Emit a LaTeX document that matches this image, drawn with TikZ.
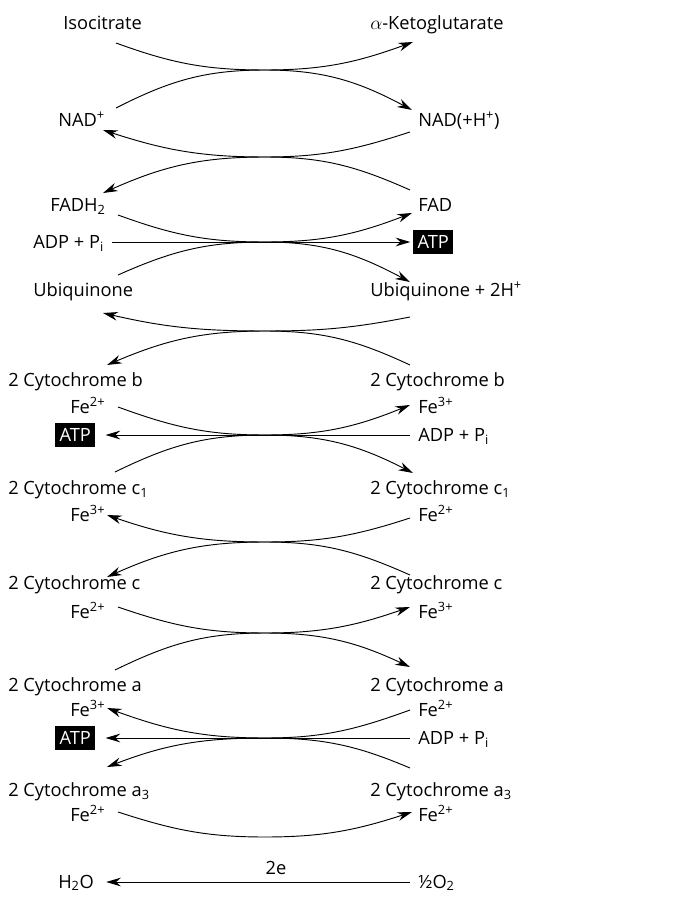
\documentclass[tikz,border=0pt]{standalone}
\usepackage{fontspec}
\setmainfont{Open Sans}
\usetikzlibrary{arrows.meta}

\begin{document}
\begin{tikzpicture}[x=0.75pt, y=-0.75pt,
    lbl/.style={anchor=base west, inner sep=0pt, font=\fontsize{13.7}{16}\selectfont},
    atpbox/.style={anchor=west, fill=black, text=white, inner sep=0pt, minimum width=30pt,
                   minimum height=18pt, font=\fontsize{13.7}{16}\selectfont},
    rxn/.style={-{Stealth[length=11pt, width=6.5pt]}, line width=0.7pt},
  ]
  \useasboundingbox (0,0) rectangle (672,897);

  \node[lbl] (iso)   at (63,29.5)   {Isocitrate};
  \node[lbl] (akg)   at (370,29.5)  {$\alpha$-Ketoglutarate};
  \node[lbl] (nadl)  at (58,126.5)  {NAD\textsuperscript{+}};
  \node[lbl] (nadr)  at (418,126.5) {NAD(+H\textsuperscript{+})};
  \node[lbl] (fadh)  at (50,211.5)  {FADH\textsubscript{2}};
  \node[lbl] (fad)   at (418,211.5) {FAD};
  \node[lbl] (adpl)  at (33,248.5)  {ADP + P\textsubscript{i}};
  \node[atpbox] (atpr) at (413,242) {ATP};
  \node[lbl] (ubl)   at (33,296.5)  {Ubiquinone};
  \node[lbl] (ubr)   at (370,296.5) {Ubiquinone + 2H\textsuperscript{+}};
  \node[lbl] (cbl)   at (8,386.5)   {2 Cytochrome b};
  \node[lbl] (cbr)   at (370,386.5) {2 Cytochrome b};
  \node[lbl] (febl)  at (70,413.5)  {Fe\textsuperscript{2+}};
  \node[lbl] (febr)  at (418,413.5) {Fe\textsuperscript{3+}};
  \node[atpbox] (atpa) at (55,435) {ATP};
  \node[lbl] (adpa)  at (418,441.5) {ADP + P\textsubscript{i}};
  \node[lbl] (cconel) at (8,494.5)  {2 Cytochrome c\textsubscript{1}};
  \node[lbl] (cconer) at (370,494.5) {2 Cytochrome c\textsubscript{1}};
  \node[lbl] (feconel) at (70,521.5) {Fe\textsuperscript{3+}};
  \node[lbl] (feconer) at (418,521.5) {Fe\textsuperscript{2+}};
  \node[lbl] (ccl)   at (8,589.5)   {2 Cytochrome c};
  \node[lbl] (ccr)   at (370,589.5) {2 Cytochrome c};
  \node[lbl] (fecl)  at (70,618.5)  {Fe\textsuperscript{2+}};
  \node[lbl] (fecr)  at (418,618.5) {Fe\textsuperscript{3+}};
  \node[lbl] (cal)   at (8,691.5)   {2 Cytochrome a};
  \node[lbl] (car)   at (370,691.5) {2 Cytochrome a};
  \node[lbl] (feal)  at (70,716.5)  {Fe\textsuperscript{3+}};
  \node[lbl] (fear)  at (418,716.5) {Fe\textsuperscript{2+}};
  \node[atpbox] (atpb) at (55,738) {ATP};
  \node[lbl] (adpb)  at (418,744.5) {ADP + P\textsubscript{i}};
  \node[lbl] (cathl) at (8,796.5)   {2 Cytochrome a\textsubscript{3}};
  \node[lbl] (cathr) at (370,796.5) {2 Cytochrome a\textsubscript{3}};
  \node[lbl] (fethl) at (70,821.5)  {Fe\textsuperscript{2+}};
  \node[lbl] (fethr) at (418,821.5) {Fe\textsuperscript{2+}};
  \node[lbl] (water) at (58,888)    {H\textsubscript{2}O};
  \node[lbl] (oxy)   at (418,888)   {½O\textsubscript{2}};
  \node[lbl, anchor=base] (elec) at (276,874) {2e};

  \coordinate (m1) at (265,70);
  \coordinate (m2) at (265,157);
  \coordinate (m3) at (265,242);
  \coordinate (m4) at (265,331);
  \coordinate (m5) at (265,435);
  \coordinate (m6) at (265,542);
  \coordinate (m7) at (265,633);
  \coordinate (m8) at (265,738);
  \coordinate (m9) at (265,837);
  \coordinate (m10) at (265,882);

  \coordinate (iso-o)  at (116,43);   \coordinate (akg-i)  at (413,42);
  \coordinate (nadl-o) at (116,108);  \coordinate (nadr-i) at (412,110);
  \coordinate (nadr-o) at (410,132);  \coordinate (nadl-i) at (103,130);
  \coordinate (fad-o)  at (410,190);  \coordinate (fadh-i) at (103,193);
  \coordinate (fadh-o) at (118,215);  \coordinate (fad-i)  at (412,213);
  \coordinate (ubl-o)  at (118,275);  \coordinate (ubr-i)  at (410,282);
  \coordinate (ubr-o)  at (410,317);  \coordinate (ubl-i)  at (103,313);
  \coordinate (cbr-o)  at (410,365);  \coordinate (cbl-i)  at (107,365);
  \coordinate (febl-o) at (118,407);  \coordinate (febr-i) at (410,405);
  \coordinate (cconel-o) at (115,472); \coordinate (cconer-i) at (413,473);
  \coordinate (feconer-o) at (410,518); \coordinate (feconel-i) at (107,515);
  \coordinate (ccr-o)  at (410,575);  \coordinate (ccl-i)  at (107,577);
  \coordinate (fecl-o) at (118,607);  \coordinate (fecr-i) at (410,607);
  \coordinate (cal-o)  at (115,670);  \coordinate (car-i)  at (410,667);
  \coordinate (fear-o) at (410,710);  \coordinate (feal-i) at (107,708);
  \coordinate (cathr-o) at (410,768); \coordinate (cathl-i) at (107,767);
  \coordinate (fethl-o) at (118,812); \coordinate (fethr-i) at (412,812);

  \draw[rxn] (iso-o) to[out=-20, in=180] (m1) to[out=0, in=200] (akg-i);
  \draw[rxn] (nadl-o) to[out=27, in=180] (m1) to[out=0, in=152] (nadr-i);
  \draw[rxn] (nadr-o) to[out=198, in=0] (m2) to[out=180, in=-18] (nadl-i);
  \draw[rxn] (fad-o) to[out=156, in=0] (m2) to[out=180, in=24] (fadh-i);
  \draw[rxn] (fadh-o) to[out=-20, in=180] (m3) to[out=0, in=201] (fad-i);
  \draw[rxn, shorten <=6pt, shorten >=2pt] (adpl.east |- m3) -- (atpr.west);
  \draw[rxn] (ubl-o) to[out=24, in=180] (m3) to[out=0, in=152] (ubr-i);
  \draw[rxn] (ubr-o) to[out=191, in=0] (m4) to[out=180, in=-13] (ubl-i);
  \draw[rxn] (cbr-o) to[out=155, in=0] (m4) to[out=180, in=23] (cbl-i);
  \draw[rxn] (febl-o) to[out=-20, in=180] (m5) to[out=0, in=202] (febr-i);
  \draw[rxn, shorten <=6pt, shorten >=7.5pt] (adpa.west |- m5) -- (atpa.east);
  \draw[rxn] (cconel-o) to[out=26, in=180] (m5) to[out=0, in=153] (cconer-i);
  \draw[rxn] (feconer-o) to[out=198, in=0] (m6) to[out=180, in=-19] (feconel-i);
  \draw[rxn] (ccr-o) to[out=156, in=0] (m6) to[out=180, in=24] (ccl-i);
  \draw[rxn] (fecl-o) to[out=-19, in=180] (m7) to[out=0, in=199] (fecr-i);
  \draw[rxn] (cal-o) to[out=26, in=180] (m7) to[out=0, in=155] (car-i);
  \draw[rxn] (fear-o) to[out=200, in=0] (m8) to[out=180, in=-20] (feal-i);
  \draw[rxn, shorten <=6pt, shorten >=7.5pt] (adpb.west |- m8) -- (atpb.east);
  \draw[rxn] (cathr-o) to[out=157, in=0] (m8) to[out=180, in=21] (cathl-i);
  \draw[rxn] (fethl-o) to[out=-18, in=180] (m9) to[out=0, in=198] (fethr-i);
  \draw[rxn, shorten <=6pt, shorten >=9pt] (oxy.west |- m10) -- (water.east |- m10);
\end{tikzpicture}
\end{document}
